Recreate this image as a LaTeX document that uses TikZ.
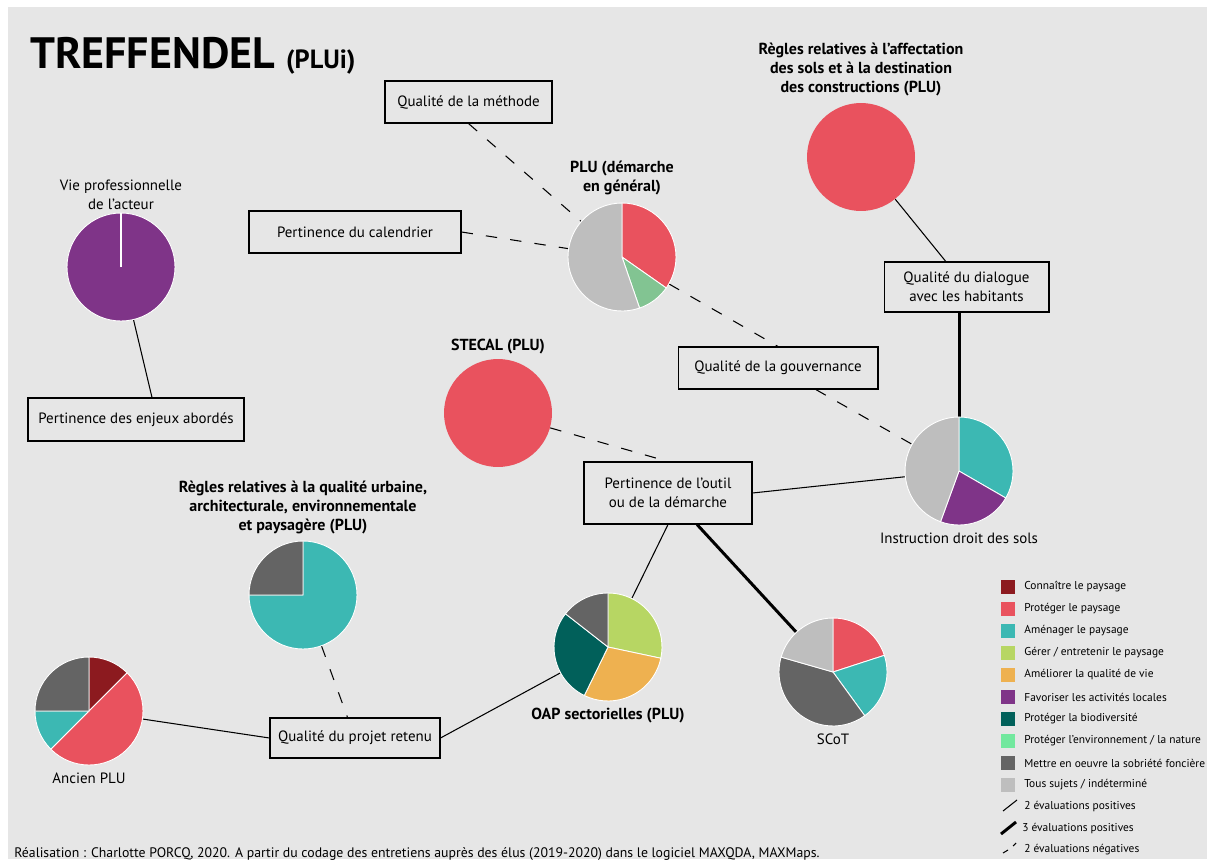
\documentclass[tikz,border=0pt]{standalone}
\usepackage{fontspec}
\setmainfont{PT Sans}
\usepackage{tikz}
\usetikzlibrary{positioning, calc}

\definecolor{bg}{HTML}{E6E6E6}
\definecolor{connaitre}{HTML}{8C1A1F}
\definecolor{proteger}{HTML}{E9525E}
\definecolor{amenager}{HTML}{3CB8B3}
\definecolor{gerer}{HTML}{B7D663}
\definecolor{ameliorer}{HTML}{EEB150}
\definecolor{favoriser}{HTML}{7F3488}
\definecolor{biodiv}{HTML}{01605A}
\definecolor{nature}{HTML}{72E89E}
\definecolor{naturepie}{HTML}{82C492}
\definecolor{sobriete}{HTML}{646464}
\definecolor{tous}{HTML}{BEBEBE}

\tikzset{
  codebox/.style={draw, line width=0.6pt, align=center, inner sep=0pt, font=\fontsize{8.5}{11}\selectfont},
  pienode/.style={circle, minimum size=2.16cm, inner sep=0pt},
  pietitle/.style={align=center, inner sep=1pt, font=\bfseries\fontsize{9.1}{10.8}\selectfont},
  pielabel/.style={align=center, inner sep=1pt, font=\fontsize{8.5}{10.8}\selectfont},
  pos2/.style={line width=0.6pt},
  pos3/.style={line width=1.7pt},
  neg2/.style={line width=0.6pt, dash pattern=on 6.5pt off 7.5pt},
  legtext/.style={anchor=west, inner sep=0pt, font=\fontsize{6.5}{7}\selectfont},
}

% slice of a pie: centre, start angle, end angle, colour
\newcommand{\pieslice}[4]{\fill[#4, draw=white, line width=0.5pt] (#1.center) -- ++(#2:1.08cm) arc[start angle=#2, end angle=#3, radius=1.08cm] -- cycle;}
% legend square: name, y, colour, text
\newcommand{\legenditem}[4]{\fill[#3] (1001,#2-7) rectangle (1015,#2+7);
  \node[legtext] (#1) at (1024,#2) {#4};}

\begin{document}
\begin{tikzpicture}[x=0.02cm, y=-0.02cm]
        \useasboundingbox (0,0) rectangle (1213,859);
        \fill[white] (0,0) rectangle (1213,859);
        \fill[bg] (8,7) rectangle (1207,859);
        %---------------------------
        \node[anchor=base west, inner sep=0pt, font=\bfseries\fontsize{25}{28}\selectfont] (title) at (30,68) {TREFFENDEL {\fontsize{15}{17}\selectfont(PLUi)}};
        %---------------------------
        \node[pienode] (vie) at (121,267) {};
        \node[pienode] (plu) at (622,257) {};
        \node[pienode] (affect) at (861,157) {};
        \node[pienode] (stecal) at (498,413) {};
        \node[pienode] (instr) at (959,471) {};
        \node[pienode] (urb) at (303,595) {};
        \node[pienode] (oap) at (608,647) {};
        \node[pienode] (scot) at (833,672) {};
        \node[pienode] (anc) at (89,711) {};
        %---------------------------
        \node[codebox, minimum width=3.34cm, minimum height=0.84cm] (Qm) at (468.5,102) {Qualité de la méthode};
        \node[codebox, minimum width=4.24cm, minimum height=0.84cm] (Pc) at (355,232) {Pertinence du calendrier};
        \node[codebox, minimum width=4cm, minimum height=0.84cm] (Qg) at (778,368) {Qualité de la gouvernance};
        \node[codebox, minimum width=3.3cm, minimum height=1cm] (Qd) at (966.5,287) {Qualité du dialogue\\avec les habitants};
        \node[codebox, minimum width=4.32cm, minimum height=0.86cm] (Pe) at (136,419.5) {Pertinence des enjeux abordés};
        \node[codebox, minimum width=3.36cm, minimum height=1.24cm] (Po) at (668,493) {Pertinence de l’outil\\ou de la démarche};
        \node[codebox, minimum width=3.4cm, minimum height=0.8cm] (Qp) at (355,738) {Qualité du projet retenu};
        %---------------------------
        \path[neg2]
        (Qm.south) edge (plu)
        (Pc.east) edge (plu)
        (plu) edge (Qg.north)
        (Qg) edge (instr)
        (stecal) edge (Po.north)
        (urb) edge (Qp);
        \path[pos2]
        (affect) edge (Qd)
        (Po.east) edge (instr)
        (Po.south) edge (oap)
        (oap) edge (Qp.east)
        (anc) edge (Qp.west)
        (vie) edge ($(Pe.north)+(16,0)$);
        \path[pos3]
        (Qd.south -| instr) edge (instr)
        (Po) edge (scot);
        %---------------------------
        \fill[favoriser, draw=white, line width=0.5pt] (vie) circle[radius=1.08cm];
        \draw[white, line width=0.6pt] (vie.center) -- (vie.north);
        \pieslice{plu}{90}{-35}{proteger}
        \pieslice{plu}{-35}{-71}{naturepie}
        \pieslice{plu}{-71}{-270}{tous}
        \fill[proteger] (affect) circle[radius=1.08cm];
        \fill[proteger] (stecal) circle[radius=1.08cm];
        \pieslice{instr}{90}{-30}{amenager}
        \pieslice{instr}{-30}{-110}{favoriser}
        \pieslice{instr}{-110}{-270}{tous}
        \pieslice{urb}{90}{-180}{amenager}
        \pieslice{urb}{-180}{-270}{sobriete}
        \pieslice{oap}{90}{-12}{gerer}
        \pieslice{oap}{-12}{-116}{ameliorer}
        \pieslice{oap}{-116}{-218}{biodiv}
        \pieslice{oap}{-218}{-270}{sobriete}
        \pieslice{scot}{90}{18}{proteger}
        \pieslice{scot}{18}{-54}{amenager}
        \pieslice{scot}{-54}{-196}{sobriete}
        \pieslice{scot}{-196}{-270}{tous}
        \pieslice{anc}{90}{45}{connaitre}
        \pieslice{anc}{45}{-135}{proteger}
        \pieslice{anc}{-135}{-180}{amenager}
        \pieslice{anc}{-180}{-270}{sobriete}
        %---------------------------
        \node[pielabel, above=0.02cm of vie] (vietxt) {Vie professionnelle\\de l’acteur};
        \node[pietitle, above=0.12cm of plu] (plutxt) {PLU (démarche\\en général)};
        \node[pietitle, above=0.1cm of affect] (affecttxt) {Règles relatives à l’affectation\\des sols et à la destination\\des constructions (PLU)};
        \node[pietitle, above=0.05cm of stecal] (stecaltxt) {STECAL (PLU)};
        \node[pielabel, below=0.1cm of instr] (instrtxt) {Instruction droit des sols};
        \node[pietitle, above=0.1cm of urb] (urbtxt) {Règles relatives à la qualité urbaine,\\architecturale, environnementale\\et paysagère (PLU)};
        \node[pietitle, below=0.1cm of oap] (oaptxt) {OAP sectorielles (PLU)};
        \node[pielabel, below=0.1cm of scot] (scottxt) {SCoT};
        \node[pielabel, below=0.1cm of anc] (anctxt) {Ancien PLU};
        %---------------------------
        \legenditem{leg1}{587}{connaitre}{Connaître le paysage}
        \legenditem{leg2}{609}{proteger}{Protéger le paysage}
        \legenditem{leg3}{631}{amenager}{Aménager le paysage}
        \legenditem{leg4}{653}{gerer}{Gérer / entretenir le paysage}
        \legenditem{leg5}{675}{ameliorer}{Améliorer la qualité de vie}
        \legenditem{leg6}{697}{favoriser}{Favoriser les activités locales}
        \legenditem{leg7}{719}{biodiv}{Protéger la biodiversité}
        \legenditem{leg8}{741}{nature}{Protéger l’environnement / la nature}
        \legenditem{leg9}{763}{sobriete}{Mettre en oeuvre la sobriété foncière}
        \legenditem{leg10}{785}{tous}{Tous sujets / indéterminé}
        \draw[pos2] (1003,811) -- (1017,800);
        \node[legtext] (leg11) at (1024,807) {2 évaluations positives};
        \draw[pos3] (1001,834) -- (1016,822);
        \node[legtext] (leg12) at (1022,829) {3 évaluations positives};
        \draw[pos2] (1003,853) -- (1008,850) (1013,846) -- (1016,843);
        \node[legtext] (leg13) at (1024,850) {2 évaluations négatives};
        %---------------------------
        \node[anchor=base west, inner sep=0pt, font=\fontsize{7.85}{9}\selectfont] (credit) at (14,857) {Réalisation : Charlotte PORCQ, 2020. A partir du codage des entretiens auprès des élus (2019-2020) dans le logiciel MAXQDA, MAXMaps.};
\end{tikzpicture}
\end{document}
